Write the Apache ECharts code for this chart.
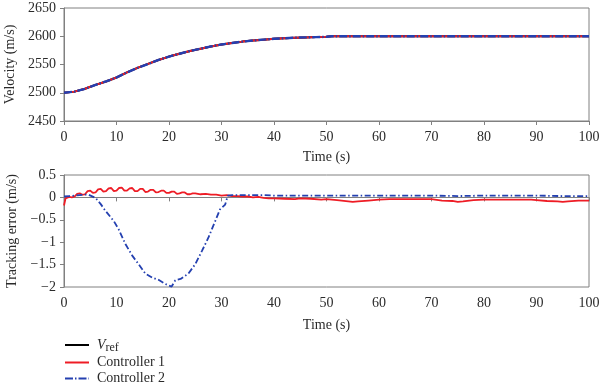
<!DOCTYPE html>
<html>
<head>
<meta charset="utf-8">
<script src="https://cdn.jsdelivr.net/npm/echarts@6/dist/echarts.min.js"></script>
<style>html,body{margin:0;padding:0;background:#fff}#c{width:600px;height:387px}</style>
</head>
<body>
<div id="c"></div>
<script>
// ---- data ----
var tVel = [0,2,4,6,8,10,12,14,16,18,20,22,24,26,28,30,32,34,36,38,40,42,44,46,48,50,51,52,60,70,80,90,100];
var vRef = [2500,2502,2507,2514,2520,2527,2536,2544,2551,2558,2564,2569,2574,2578,2582,2585.5,2588,2590.5,2592.5,2594,2595.5,2596.5,2597.5,2598,2598.5,2599,2600,2600,2600,2600,2600,2600,2600];
var vCtrl1 = [2500,2502,2507,2514,2520,2527,2536,2544,2551,2558,2564,2569,2574,2578,2582,2585.5,2588,2590.5,2592.5,2594,2595.5,2596.5,2597.5,2598,2598.5,2599,2600,2600,2600,2600,2600,2600,2600];
var vCtrl2 = [2500,2502,2507,2514,2520,2527,2536,2544,2551,2558,2564,2569,2574,2578,2582,2585.5,2588,2590.5,2592.5,2594,2595.5,2596.5,2597.5,2598,2598.5,2599,2600,2600,2600,2600,2600,2600,2600];

var tErr1 = [0,0.3,1,1.5,2,2.5,3,3.5,4,4.5,5,5.5,6,6.5,7,7.5,8,8.5,9,9.5,10,10.5,11,11.5,12,12.5,13,13.5,14,14.5,15,15.5,16,16.5,17,17.5,18,18.5,19,19.5,20,20.5,21,21.5,22,22.5,23,23.5,24,24.5,25,26,27,28,29,30,31,32,33,34,35,36,37,38,39,40,42,44,45,47,49,50,52,55,56,58,60,62,65,68,70,72,74,75,76,78,80,85,89,90,92,94,95,96,98,100];
var err1 = [-0.18,-0.02,0.01,0.0,0.02,0.08,0.09,0.06,0.07,0.14,0.15,0.1,0.11,0.18,0.19,0.13,0.14,0.2,0.21,0.14,0.15,0.21,0.22,0.15,0.15,0.2,0.21,0.14,0.14,0.19,0.19,0.12,0.13,0.17,0.17,0.11,0.12,0.15,0.15,0.1,0.1,0.13,0.13,0.08,0.09,0.11,0.11,0.07,0.07,0.09,0.09,0.07,0.08,0.06,0.06,0.04,0.05,0.03,0.03,0.02,0.02,0.0,0.01,-0.01,-0.02,-0.02,-0.03,-0.04,-0.02,-0.03,-0.05,-0.04,-0.06,-0.1,-0.09,-0.07,-0.05,-0.04,-0.04,-0.04,-0.04,-0.07,-0.08,-0.1,-0.09,-0.06,-0.05,-0.05,-0.05,-0.06,-0.08,-0.09,-0.1,-0.09,-0.07,-0.07];

var tErr2 = [0,1,2,3,4,4.7,6,7,7.9,9.5,10.4,11.7,13,14.2,15.5,16.8,18,19.3,20,20.5,21.2,22.2,23.7,25,26.3,27.5,28.8,29.7,30.7,31.2,32,35,38,40,45,50,55,60,65,70,75,80,85,90,95,100];
var err2 = [0.02,0.03,0.04,0.05,0.06,0.06,-0.01,-0.15,-0.3,-0.53,-0.71,-1.04,-1.3,-1.49,-1.7,-1.79,-1.84,-1.93,-1.97,-1.99,-1.85,-1.82,-1.7,-1.49,-1.19,-0.9,-0.53,-0.27,-0.16,0.04,0.05,0.05,0.05,0.04,0.04,0.04,0.04,0.04,0.04,0.04,0.03,0.04,0.04,0.04,0.03,0.03];

var xTicks = [0,10,20,30,40,50,60,70,80,90,100];
var velTicks = [2450,2500,2550,2600,2650];
var errTicks = [-2,-1.5,-1,-0.5,0,0.5];

function pairs(t, v){ return t.map(function(x,i){ return [x, v[i]]; }); }

var FONT = 'Liberation Serif';
var axisCol = '#808080';
var txtCol = '#2a2a2a';
var FS = 14;

function xAxisCfg(gi, gap){
  return {
    type:'value', gridIndex:gi, min:0, max:100, interval:10,
    name:'Time (s)', nameLocation:'middle', nameGap:gap,
    nameTextStyle:{fontFamily:FONT, fontSize:FS, color:txtCol},
    axisLine:{lineStyle:{color:axisCol}},
    axisTick:{length:4, lineStyle:{color:axisCol}},
    axisLabel:{fontFamily:FONT, fontSize:FS, color:txtCol, margin:9},
    splitLine:{show:false}
  };
}
function yAxisCfg(gi, name, min, max, interval){
  return {
    type:'value', gridIndex:gi, min:min, max:max, interval:interval,
    name:name, nameLocation:'middle', nameGap:42, nameRotate:90,
    nameTextStyle:{fontFamily:FONT, fontSize:FS, color:txtCol},
    axisLine:{show:true, lineStyle:{color:axisCol}},
    axisTick:{show:true, length:4, lineStyle:{color:axisCol}},
    axisLabel:{fontFamily:FONT, fontSize:FS, color:txtCol, margin:8,
      formatter:function(v){ return String(v).replace('-', '\u2212'); }},
    splitLine:{show:false}
  };
}

var RED = '#ee1c25', BLUE = '#2440b0';
var dashDotTop = [8,2,1.5,2];
var dashDot = [6,2.5,1.5,2.5];

var chart = echarts.init(document.getElementById('c'), null, {renderer:'canvas'});
chart.setOption({
  animation:false,
  backgroundColor:'#fff',
  grid:[
    {left:64, right:11, top:8, height:113, show:true, borderColor:axisCol, borderWidth:1, containLabel:false, outerBoundsMode:'none'},
    {left:64, right:11, top:175, height:112, show:true, borderColor:axisCol, borderWidth:1, containLabel:false, outerBoundsMode:'none'}
  ],
  xAxis:[xAxisCfg(0,29), xAxisCfg(1,31)],
  yAxis:[yAxisCfg(0,'Velocity (m/s)',2450,2650,50), yAxisCfg(1,'Tracking error (m/s)',-2,0.5,0.5)],
  legend:{
    orient:'vertical', left:64, top:338, height:80, padding:0, itemWidth:24, itemHeight:12, itemGap:2,
    itemStyle:{opacity:0, borderWidth:0},
    data:[{name:'Vref'},{name:'Controller 1'},{name:'Controller 2'}],
    textStyle:{fontFamily:FONT, fontSize:FS, color:txtCol, padding:[0,0,0,3],
      rich:{i:{fontFamily:FONT, fontSize:FS, fontStyle:'italic', color:txtCol},
            s:{fontFamily:FONT, fontSize:12, color:txtCol, padding:[5,0,0,0]}}},
    formatter:function(n){ return n==='Vref' ? '{i|V}{s|ref}' : n; }
  },
  series:[
    {name:'Vref', type:'line', xAxisIndex:0, yAxisIndex:0, data:pairs(tVel,vRef), showSymbol:false, symbol:'none',
      lineStyle:{color:'#000', width:2}, itemStyle:{color:'#000'}},
    {name:'Controller 1', type:'line', xAxisIndex:0, yAxisIndex:0, data:pairs(tVel,vCtrl1), showSymbol:false, symbol:'none',
      lineStyle:{color:RED, width:2}, itemStyle:{color:RED}},
    {name:'Controller 2', type:'line', xAxisIndex:0, yAxisIndex:0, data:pairs(tVel,vCtrl2), showSymbol:false, symbol:'none',
      lineStyle:{color:BLUE, width:2.4, type:dashDotTop}, itemStyle:{color:BLUE}},
    {name:'Controller 1', type:'line', xAxisIndex:1, yAxisIndex:1, data:pairs(tErr1,err1), showSymbol:false, symbol:'none',
      lineStyle:{color:RED, width:1.8}, itemStyle:{color:RED}},
    {name:'Controller 2', type:'line', xAxisIndex:1, yAxisIndex:1, data:pairs(tErr2,err2), showSymbol:false, symbol:'none',
      lineStyle:{color:BLUE, width:1.8, type:dashDot}, itemStyle:{color:BLUE}}
  ]
});
</script>
</body>
</html>
